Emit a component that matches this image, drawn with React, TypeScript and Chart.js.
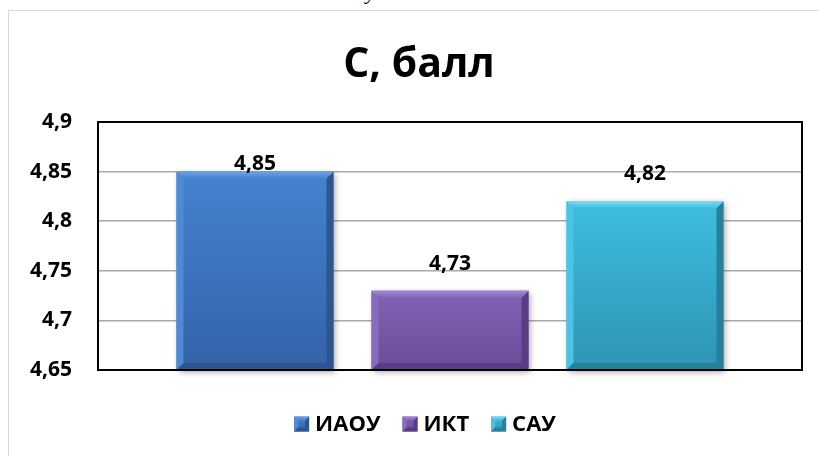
import React, { useEffect, useRef } from "react";
import { Chart, registerables } from "chart.js";

Chart.register(...registerables);

// ---- data ----
const categories: string[] = [""];
const seriesNames: string[] = ["ИАОУ", "ИКТ", "САУ"];
const seriesValues: number[] = [4.85, 4.73, 4.82];
const yMin = 4.65;
const yMax = 4.9;
const yStep = 0.05;
const titleText = "С, балл";

// ---- style ----
const FONT = "'Open Sans', 'DejaVu Sans', sans-serif";
const topColors = ["#4483d0", "#8262b6", "#3ebde0"];
const bottomColors = ["#3462a8", "#694c99", "#2d94b4"];
const lightBevel = ["#6ea3e6", "#a68ad6", "#7fd8f0"];
const sideLight = ["#4d8ad8", "#8a6abe", "#4ac4e4"];
const darkBevel = ["#2c5591", "#573d83", "#25809c"];
const labelOffsets = [8, 27, 27];

function fmt(v: number): string {
  return String(Math.round(v * 100) / 100).replace(".", ",");
}

function drawBevelRect(
  ctx: CanvasRenderingContext2D,
  l: number,
  t: number,
  r: number,
  b: number,
  i: number,
  bev: number,
  shadow: boolean
) {
  ctx.save();
  if (shadow) {
    ctx.shadowColor = "rgba(0,0,0,0.35)";
    ctx.shadowBlur = 6;
    ctx.shadowOffsetX = 2;
    ctx.shadowOffsetY = 2;
  }
  const g = ctx.createLinearGradient(0, t, 0, b);
  g.addColorStop(0, topColors[i]);
  g.addColorStop(1, bottomColors[i]);
  ctx.fillStyle = g;
  ctx.fillRect(l, t, r - l, b - t);
  ctx.restore();

  ctx.save();
  const poly = (pts: number[][], color: any) => {
    ctx.beginPath();
    ctx.moveTo(pts[0][0], pts[0][1]);
    for (let k = 1; k < pts.length; k++) ctx.lineTo(pts[k][0], pts[k][1]);
    ctx.closePath();
    ctx.fillStyle = color;
    ctx.fill();
  };
  poly([[l, t], [l + bev, t + bev], [l + bev, b - bev], [l, b]], sideLight[i]);
  poly([[r, t], [r, b], [r - bev, b - bev], [r - bev, t + bev]], darkBevel[i]);
  poly([[l, b], [r, b], [r - bev, b - bev], [l + bev, b - bev]], darkBevel[i]);
  const gt = ctx.createLinearGradient(0, t, 0, t + bev);
  gt.addColorStop(0, lightBevel[i]);
  gt.addColorStop(1, topColors[i]);
  poly([[l, t], [r, t], [r - bev, t + bev], [l + bev, t + bev]], gt);
  ctx.restore();
}

const customPlugin = {
  id: "customDraw",
  afterDatasetsDraw(chart: any) {
    const ctx: CanvasRenderingContext2D = chart.ctx;
    const a = chart.chartArea;
    chart.data.datasets.forEach((ds: any, i: number) => {
      const meta = chart.getDatasetMeta(i);
      meta.data.forEach((el: any, j: number) => {
        const p = el.getProps(["x", "y", "base", "width"], true);
        const l = p.x - p.width / 2;
        const r = p.x + p.width / 2;
        const bottom = Math.min(p.base, a.bottom);
        const top = Math.max(p.y, a.top);
        drawBevelRect(ctx, l, top, r, bottom, i, 7, true);
        ctx.save();
        ctx.font = `bold 21px ${FONT}`;
        ctx.fillStyle = "#000";
        ctx.textAlign = "center";
        ctx.textBaseline = "middle";
        ctx.fillText(fmt(ds.data[j]), p.x, p.y - labelOffsets[i]);
        ctx.restore();
      });
    });
  },
  afterDraw(chart: any) {
    const ctx: CanvasRenderingContext2D = chart.ctx;
    const a = chart.chartArea;
    ctx.save();
    ctx.strokeStyle = "#000";
    ctx.lineWidth = 2;
    ctx.strokeRect(a.left, a.top, a.right - a.left, a.bottom - a.top);
    ctx.restore();
    ctx.save();
    ctx.font = `bold 41px ${FONT}`;
    ctx.fillStyle = "#000";
    ctx.textAlign = "center";
    ctx.textBaseline = "alphabetic";
    ctx.fillText(titleText, 419, 77);
    ctx.restore();
    ctx.save();
    ctx.font = `bold 22px ${FONT}`;
    const box = 15;
    const gap = 6;
    const itemGap = 22;
    const widths = seriesNames.map((n) => box + gap + ctx.measureText(n).width);
    const total = widths.reduce((s, w) => s + w, 0) + itemGap * (widths.length - 1);
    let x = 425 - total / 2;
    const cy = 424;
    seriesNames.forEach((n, i) => {
      drawBevelRect(ctx, x, cy - box / 2, x + box, cy + box / 2, i, 4, false);
      ctx.fillStyle = "#000";
      ctx.textAlign = "left";
      ctx.textBaseline = "middle";
      ctx.fillText(n, x + box + gap, cy + 1);
      x += widths[i] + itemGap;
    });
    ctx.restore();
  },
};

export default function App() {
  const ref = useRef<HTMLCanvasElement | null>(null);
  useEffect(() => {
    if (!ref.current) return;
    const chart = new Chart(ref.current, {
      type: "bar",
      data: {
        labels: categories,
        datasets: seriesNames.map((name, i) => ({
          label: name,
          data: [seriesValues[i]],
          backgroundColor: "rgba(0,0,0,0)",
          borderWidth: 0,
          categoryPercentage: 0.831,
          barPercentage: 0.805,
        })),
      },
      options: {
        animation: false,
        responsive: false,
        devicePixelRatio: 1,
        layout: { padding: { top: 122, bottom: 86, left: 0, right: 17 } },
        plugins: {
          legend: { display: false },
          title: { display: false },
          tooltip: { enabled: false },
        },
        scales: {
          x: { display: false },
          y: {
            min: yMin,
            max: yMax,
            afterFit: (scale: any) => {
              scale.width = 98;
            },
            ticks: {
              stepSize: yStep,
              padding: 26,
              color: "#000",
              font: { family: FONT, size: 21, weight: "bold" },
              callback: (v: any) => fmt(Number(v)),
            },
            grid: { color: "#a8a8a8", lineWidth: 1.5, drawTicks: false },
            border: { display: false },
          },
        },
      },
      plugins: [customPlugin],
    });
    return () => chart.destroy();
  }, []);

  return (
    <div
      style={{
        position: "fixed",
        left: 0,
        top: 0,
        width: 819,
        height: 456,
        overflow: "hidden",
        background: "#fff",
      }}
    >
      <div
        style={{
          position: "absolute",
          left: 366,
          top: -19,
          fontFamily: "'Liberation Serif', serif",
          fontStyle: "italic",
          fontSize: 22,
          lineHeight: "22px",
          color: "#000",
        }}
      >
        у
      </div>
      <div
        style={{
          position: "absolute",
          left: 8,
          top: 10,
          width: 900,
          height: 500,
          border: "1.5px solid #d9d9d9",
        }}
      />
      <canvas
        ref={ref}
        width={819}
        height={456}
        style={{ position: "absolute", left: 0, top: 0, width: 819, height: 456 }}
      />
    </div>
  );
}
